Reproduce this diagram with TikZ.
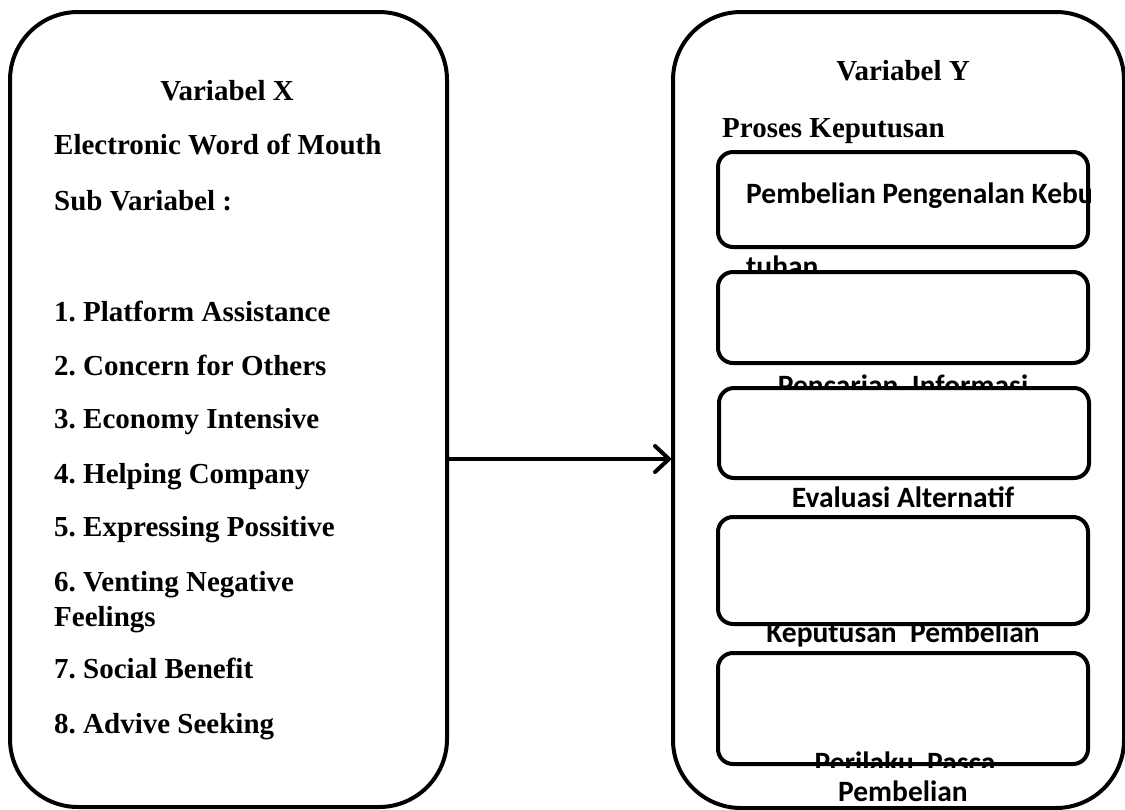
\documentclass[tikz,border=0pt]{standalone}
\usepackage{fontspec}
\setmainfont{Liberation Serif}
\newfontfamily\calibri{Carlito}
\usetikzlibrary{arrows.meta}
\frenchspacing
\tikzset{
  bigbox/.style={draw, line width=4pt, rounded corners=68pt, inner sep=0pt},
  smallbox/.style={draw, line width=4pt, rounded corners=15pt, fill=white, inner sep=0pt, minimum width=370pt},
  serif/.style={inner sep=0pt, font=\fontsize{29}{34}\selectfont\bfseries},
  cal/.style={inner sep=0pt, font=\fontsize{29.5}{34}\selectfont\calibri\bfseries},
  conn/.style={line width=4pt, -{Straight Barb[length=14pt,width=26pt,line width=4pt,round]}}
}
\begin{document}
\begin{tikzpicture}[x=1pt,y=-1pt]
\useasboundingbox (0,0) rectangle (1125,809);
% big boxes
\node[bigbox, minimum width=437pt, minimum height=795pt] (X) at (228.5,409.5) {};
\node[bigbox, minimum width=451pt, minimum height=796pt] (Y) at (898.5,410) {};
% left texts
\node[serif, anchor=base] (vx) at (227,100) {Variabel X};
\node[serif, anchor=base west] (ewom) at (54,154) {Electronic Word of Mouth};
\node[serif, anchor=base west] (sub) at (54,210) {Sub Variabel :};
\node[serif, anchor=base west] (i1) at (54,321) {1. Platform Assistance};
\node[serif, anchor=base west] (i2) at (54,375) {2. Concern for Others};
\node[serif, anchor=base west] (i3) at (54,428) {3. Economy Intensive};
\node[serif, anchor=base west] (i4) at (54,483) {4. Helping Company};
\node[serif, anchor=base west] (i5) at (54,536) {5. Expressing Possitive};
\node[serif, anchor=base west] (i6) at (54,591) {6. Venting Negative};
\node[serif, anchor=base west] (i6b) at (54,626) {Feelings};
\node[serif, anchor=base west] (i7) at (54,678) {7. Social Benefit};
\node[serif, anchor=base west] (i8) at (54,733) {8. Advive Seeking};
% right texts
\node[serif, anchor=base] (vy) at (903,80) {Variabel Y};
\node[serif, anchor=base west] (pk) at (722,137) {Proses Keputusan};
% inner boxes and labels
\node[smallbox, minimum height=95pt] (b1) at (903,199.5) {};
\begin{scope}
\clip (700,150) rectangle (1090,250);
\node[cal, anchor=base west] (l1) at (746,203) {Pembelian Pengenalan Kebu};
\end{scope}
\node[cal, anchor=base west] (l1b) at (746,276) {tuhan};
\node[cal, anchor=base] (l2) at (903,395) {Pencarian\ \ Informasi};
\node[smallbox, minimum height=91pt] (b2) at (903,317.5) {};
\node[smallbox, minimum height=90pt] (b3) at (904,433) {};
\node[cal, anchor=base] (l3) at (903,507) {Evaluasi Alternatif};
\node[cal, anchor=base] (l4) at (903,642) {Keputusan\ \ Pembelian};
\node[smallbox, minimum height=107pt] (b4) at (903,570.5) {};
\node[smallbox, minimum height=111pt] (b5) at (903,708.5) {};
\begin{scope}
\clip (700,740) rectangle (1100,767);
\node[cal, anchor=base] (l5) at (905,772) {Perilaku\ \ Pasca};
\end{scope}
\node[cal, anchor=base] (l5b) at (903,801) {Pembelian};
% connector
\coordinate (ay) at (0,459);
\draw[conn] (X.east |- ay) -- (Y.west |- ay);
\end{tikzpicture}
\end{document}
